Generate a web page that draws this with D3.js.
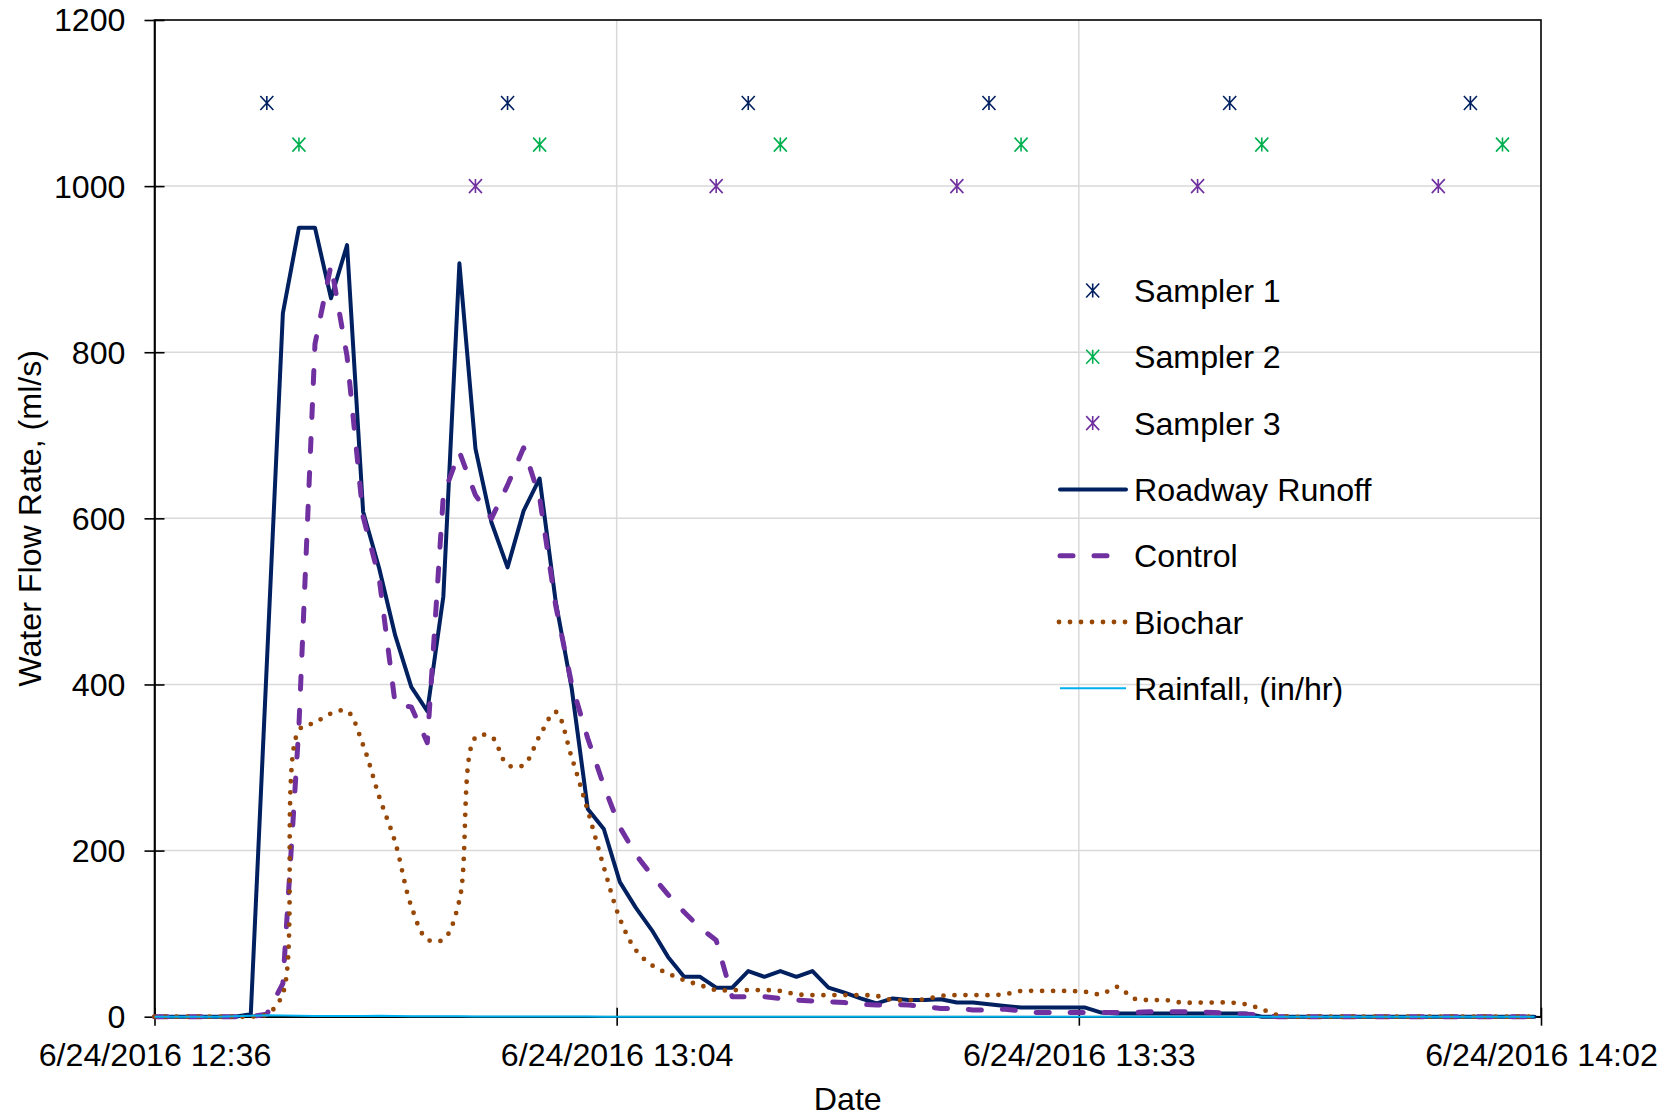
<!DOCTYPE html>
<html>
<head>
<meta charset="utf-8">
<script src="https://cdn.jsdelivr.net/npm/d3@7"></script>
<style>
  html, body { margin: 0; padding: 0; background: #fff; }
  svg { display: block; }
  text { font-family: "Liberation Sans", Arial, Helvetica, sans-serif; fill: #000; }
</style>
</head>
<body>
<svg id="chart" width="1668" height="1116"></svg>
<script>
// ---- data: one reading per minute, 6/24/2016 ----
const times = [
  "12:36","12:37","12:38","12:39","12:40","12:41","12:42","12:43","12:44","12:45",
  "12:46","12:47","12:48","12:49","12:50","12:51","12:52","12:53","12:54","12:55",
  "12:56","12:57","12:58","12:59","13:00","13:01","13:02","13:03","13:04","13:05",
  "13:06","13:07","13:08","13:09","13:10","13:11","13:12","13:13","13:14","13:15",
  "13:16","13:17","13:18","13:19","13:20","13:21","13:22","13:23","13:24","13:25",
  "13:26","13:27","13:28","13:29","13:30","13:31","13:32","13:33","13:34","13:35",
  "13:36","13:37","13:38","13:39","13:40","13:41","13:42","13:43","13:44","13:45",
  "13:46","13:47","13:48","13:49","13:50","13:51","13:52","13:53","13:54","13:55",
  "13:56","13:57","13:58","13:59","14:00","14:01","14:02"
];

// Water flow rate, ml/s
const roadwayRunoff = [
  0, 0, 0, 0, 0, 0, 3, 425, 847, 950,
  950, 865, 929, 608, 540, 459, 397, 368, 506, 907,
  684, 595, 541, 609, 648, 500, 395, 250, 226, 162,
  131, 104, 72, 48, 48, 35, 35, 55, 48, 55,
  48, 55, 35, 29, 22, 16, 22, 20, 20, 21,
  17, 17, 15, 13, 11, 11, 11, 11, 11, 5,
  4, 4, 4, 4, 4, 4, 4, 4, 4, 0,
  0, 0, 0, 0, 0, 0, 0, 0, 0, 0,
  0, 0, 0, 0, 0, 0, 0
];
const control = [
  0, 0, 0, 0, 0, 0, 0, 3, 40, 350,
  810, 905, 795, 602, 528, 376, 373, 330, 628, 680,
  628, 600, 640, 685, 625, 495, 400, 335, 278, 228,
  195, 170, 147, 126, 107, 92, 24, 24, 24, 22,
  20, 19, 18, 17, 15, 14, 15, 14, 12, 10,
  10, 8, 8, 9, 7, 5, 5, 5, 5, 5,
  5, 5, 6, 6, 6, 6, 5, 4, 3, 2,
  0, 0, 0, 0, 0, 0, 0, 0, 0, 0,
  0, 0, 0, 0, 0, 0, 0
];
const biochar = [
  0, 0, 0, 0, 0, 0, 0, 3, 28, 345,
  354, 365, 368, 327, 265, 210, 133, 93, 93, 140,
  336, 337, 303, 303, 338, 367, 312, 248, 180, 118,
  80, 62, 52, 44, 38, 32, 32, 32, 32, 31,
  27, 26, 26, 26, 26, 25, 20, 20, 21, 25,
  26, 26, 26, 27, 31, 31, 31, 31, 30, 27,
  36, 22, 20, 20, 17, 17, 17, 17, 15, 9,
  2, 0, 0, 0, 0, 0, 0, 0, 0, 0,
  0, 0, 0, 0, 0, 0, 0
];
// Rainfall, in/hr (plotted on the same axis)
const rainfall = [
  0, 0, 0, 0, 0, 0.4, 1.2, 1.6, 1.4, 1.1,
  0.9, 0.8, 0.7, 0.9, 1.1, 0.8, 0.6, 0.5, 0.4, 0.4,
  0.3, 0.3, 0.2, 0.2, 0.2, 0.1, 0.1, 0.1, 0, 0,
  0, 0, 0, 0, 0, 0, 0, 0, 0, 0,
  0, 0, 0, 0, 0, 0, 0, 0, 0, 0,
  0, 0, 0, 0, 0, 0, 0, 0, 0, 0,
  0, 0, 0, 0, 0, 0, 0, 0, 0, 0,
  0, 0, 0, 0, 0, 0, 0, 0, 0, 0,
  0, 0, 0, 0, 0, 0, 0
];

// Sample collection times and their plotting levels
const sampler1Times = ["12:43", "12:58", "13:13", "13:28", "13:43", "13:58"];
const sampler2Times = ["12:45", "13:00", "13:15", "13:30", "13:45", "14:00"];
const sampler3Times = ["12:56", "13:11", "13:26", "13:41", "13:56"];
const sampler1Level = 1100, sampler2Level = 1050, sampler3Level = 1000;

const yTicks = [0, 200, 400, 600, 800, 1000, 1200];
const xTickTimes = ["12:36:00", "13:04:48", "13:33:36", "14:02:24"];
const xDomain = ["12:36:00", "14:02:24"];

// ---- helpers ----
const toDate = s => {
  const p = s.split(":").map(Number);
  return new Date(2016, 5, 24, p[0], p[1], p[2] || 0);
};
const fmt = d3.timeFormat("%-m/%-d/%Y %H:%M");

// ---- layout ----
const plotLeft = 154.5, plotRight = 1541, plotTop = 20, plotBottom = 1016.7;
const svg = d3.select("#chart");
svg.append("rect").attr("width", 1668).attr("height", 1116).attr("fill", "#fff");

const x = d3.scaleTime().domain(xDomain.map(toDate)).range([plotLeft, plotRight]);
const y = d3.scaleLinear().domain([0, 1200]).range([plotBottom, plotTop]);

const FONT = 32.2;

// gridlines
const grid = svg.append("g");
grid.selectAll("line.h").data(yTicks.filter(v => v > 0 && v < 1200)).join("line")
  .attr("class", "h")
  .attr("x1", plotLeft).attr("x2", plotRight)
  .attr("y1", d => y(d)).attr("y2", d => y(d))
  .attr("stroke", "#d9d9d9").attr("stroke-width", 1.5);
grid.selectAll("line.v").data(xTickTimes.slice(1, -1).map(toDate)).join("line")
  .attr("class", "v")
  .attr("x1", d => x(d)).attr("x2", d => x(d))
  .attr("y1", plotTop).attr("y2", plotBottom)
  .attr("stroke", "#d9d9d9").attr("stroke-width", 1.5);

// plot area frame
svg.append("rect")
  .attr("x", plotLeft).attr("y", plotTop)
  .attr("width", plotRight - plotLeft).attr("height", plotBottom - plotTop)
  .attr("fill", "none").attr("stroke", "#000").attr("stroke-width", 1.6);

// axes
const gy = svg.append("g").attr("transform", `translate(${plotLeft},0)`)
  .call(d3.axisLeft(y).tickValues(yTicks).tickFormat(d3.format("d"))
    .tickSizeInner(10).tickSizeOuter(0).tickPadding(19));
gy.select(".domain").attr("stroke", "#000").attr("stroke-width", 1.6);
gy.selectAll(".tick line").attr("x1", 10).attr("stroke", "#000").attr("stroke-width", 1.6);
gy.selectAll(".tick text").attr("font-size", FONT).attr("dy", "0.34em");

const gx = svg.append("g").attr("transform", `translate(0,${plotBottom})`)
  .call(d3.axisBottom(x).tickValues(xTickTimes.map(toDate)).tickFormat(fmt)
    .tickSizeInner(9).tickSizeOuter(0).tickPadding(17));
gx.select(".domain").attr("stroke", "#000").attr("stroke-width", 1.6);
gx.selectAll(".tick line").attr("y1", -9).attr("stroke", "#000").attr("stroke-width", 1.6);
gx.selectAll(".tick text").attr("font-size", FONT);
[gx, gy].forEach(g => g.attr("font-family", null).attr("font-size", null));

// axis titles
svg.append("text")
  .attr("transform", `translate(41,${(plotTop + plotBottom) / 2}) rotate(-90)`)
  .attr("text-anchor", "middle").attr("font-size", FONT)
  .text("Water Flow Rate, (ml/s)");
svg.append("text")
  .attr("x", (plotLeft + plotRight) / 2).attr("y", 1110)
  .attr("text-anchor", "middle").attr("font-size", FONT)
  .text("Date");

// ---- series ----
const series = [
  { name: "Roadway Runoff", values: roadwayRunoff, color: "#002060", width: 4, dash: null, cap: "round", curve: d3.curveLinear },
  { name: "Control", values: control, color: "#7030a0", width: 5, dash: "13,21", cap: "round", curve: d3.curveLinear },
  { name: "Biochar", values: biochar, color: "#974706", width: 4.8, dash: "0,11", cap: "round", curve: d3.curveCatmullRom.alpha(0.5) },
  { name: "Rainfall, (in/hr)", values: rainfall, color: "#00b0f0", width: 2, dash: null, cap: "butt", curve: d3.curveLinear }
];
const samplers = [
  { name: "Sampler 1", times: sampler1Times, level: sampler1Level, color: "#002060" },
  { name: "Sampler 2", times: sampler2Times, level: sampler2Level, color: "#00b050" },
  { name: "Sampler 3", times: sampler3Times, level: sampler3Level, color: "#7030a0" }
];

// asterisk marker: vertical stroke plus an X
const starPath = (r) => `M0,${-r}V${r}M${-r * 0.93},${-r}L${r * 0.93},${r}M${-r * 0.93},${r}L${r * 0.93},${-r}`;

const marks = svg.append("g");
samplers.forEach(s => {
  marks.append("g").selectAll("path").data(s.times).join("path")
    .attr("transform", t => `translate(${x(toDate(t))},${y(s.level)})`)
    .attr("d", starPath(7))
    .attr("fill", "none").attr("stroke", s.color).attr("stroke-width", 1.6);
});

series.forEach(s => {
  const line = d3.line()
    .x((d, i) => x(toDate(times[i])))
    .y(d => y(d))
    .curve(s.curve);
  marks.append("path")
    .datum(s.values)
    .attr("d", line)
    .attr("fill", "none")
    .attr("stroke", s.color)
    .attr("stroke-width", s.width)
    .attr("stroke-linecap", s.cap)
    .attr("stroke-linejoin", "round")
    .attr("stroke-dasharray", s.dash);
});

// ---- legend ----
const legend = svg.append("g");
const legendItems = [
  ...samplers.map(s => ({ kind: "marker", ...s })),
  ...series.map(s => ({ kind: "line", ...s }))
];
const lgTextX = 1134, lgY0 = 290.5, lgStep = 66.3;
legendItems.forEach((it, i) => {
  const cy = lgY0 + i * lgStep;
  if (it.kind === "marker") {
    legend.append("path")
      .attr("transform", `translate(1092.7,${cy})`)
      .attr("d", starPath(7))
      .attr("fill", "none").attr("stroke", it.color).attr("stroke-width", 1.6);
  } else {
    legend.append("line")
      .attr("x1", it.dash === "0,11" ? 1059 : 1060).attr("x2", 1126)
      .attr("y1", cy).attr("y2", cy)
      .attr("stroke", it.color)
      .attr("stroke-width", it.width)
      .attr("stroke-linecap", it.cap)
      .attr("stroke-dasharray", it.dash);
  }
  legend.append("text")
    .attr("x", lgTextX).attr("y", cy + 11.5)
    .attr("font-size", FONT)
    .text(it.name);
});
</script>
</body>
</html>
